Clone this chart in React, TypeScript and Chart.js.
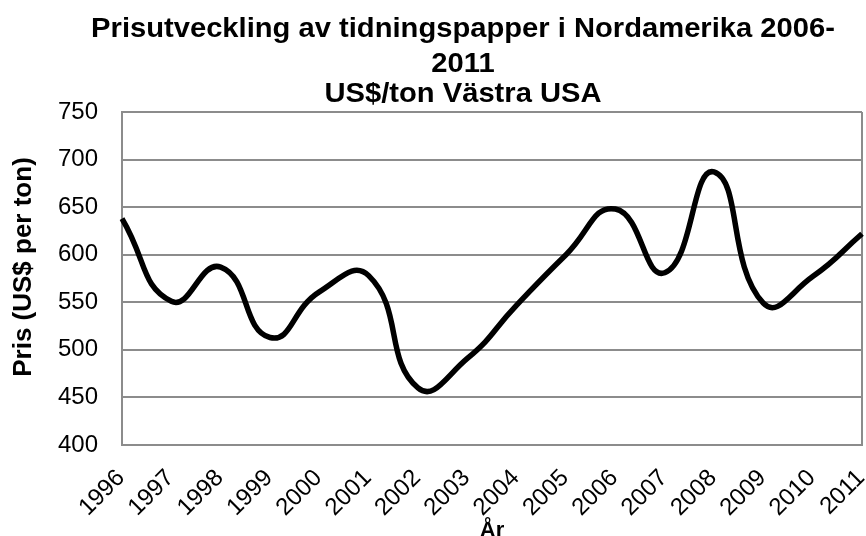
import React, { useEffect, useRef } from 'react';
import { Chart, registerables } from 'chart.js';

Chart.register(...registerables);

const titleLines = ['Prisutveckling av tidningspapper i Nordamerika 2006-', '2011', 'US$/ton Västra USA'];
const years = ['1996', '1997', '1998', '1999', '2000', '2001', '2002', '2003', '2004', '2005', '2006', '2007', '2008', '2009', '2010', '2011'];
const prices = [638, 551, 587, 513, 561, 578, 460, 491, 547, 600, 648, 581, 687, 549, 577, 622];
const yAxisTitle = 'Pris (US$ per ton)';
const xAxisTitle = 'År';
const yMin = 400;
const yMax = 750;
const yStep = 50;

const FONT = '"Liberation Sans", Arial, sans-serif';
const GRID = '#8c8c8c';

const textPlugin = {
  id: 'customTexts',
  afterDraw(chart: any) {
    const ctx = chart.ctx;
    ctx.save();
    ctx.fillStyle = '#000';
    ctx.font = `bold 27px ${FONT}`;
    ctx.textAlign = 'center';
    ctx.textBaseline = 'alphabetic';
    const cx = 463;
    const baselines = [37, 72, 102];
    titleLines.forEach((t, i) => {
      ctx.save();
      ctx.translate(cx, baselines[i]);
      ctx.scale(1.08, 1);
      ctx.fillText(t, 0, 0);
      ctx.restore();
    });
    // y axis title
    ctx.save();
    ctx.font = `bold 26px ${FONT}`;
    ctx.translate(31, 267);
    ctx.rotate(-Math.PI / 2);
    ctx.fillText(yAxisTitle, 0, 0);
    ctx.restore();
    ctx.restore();
  },
};

export default function App() {
  const ref = useRef<HTMLCanvasElement>(null);
  useEffect(() => {
    document.body.style.margin = '0';
    const canvas = ref.current;
    if (!canvas) return;
    const chart = new Chart(canvas, {
      type: 'line',
      data: {
        labels: years,
        datasets: [
          {
            data: prices,
            borderColor: '#000',
            borderWidth: 5.5,
            pointRadius: 0,
            tension: 0.5,
            fill: false,
          },
        ],
      },
      options: {
        animation: false,
        responsive: false,
        layout: { padding: { top: 112, right: 4, left: 0, bottom: 0 } },
        plugins: {
          legend: { display: false },
          tooltip: { enabled: false },
          title: { display: false },
        },
        scales: {
          x: {
            grid: {
              color: (c: any) => (c.index === years.length - 1 ? GRID : 'transparent'),
              lineWidth: 2,
              drawTicks: false,
            },
            border: { color: GRID, width: 2 },
            ticks: {
              color: '#000',
              font: { family: FONT, size: 24 },
              minRotation: 45,
              maxRotation: 45,
              autoSkip: false,
              padding: 19,
              labelOffset: -1,
            },
            title: {
              display: true,
              text: xAxisTitle,
              color: '#000',
              font: { family: FONT, size: 22, weight: 'bold', lineHeight: 1 },
              padding: { top: 0, bottom: -6 },
            },
            afterFit: (s: any) => {
              s.height = 91;
              s.paddingRight = 0;
              s.paddingLeft = 0;
            },
          },
          y: {
            min: yMin,
            max: yMax,
            ticks: {
              stepSize: yStep,
              color: '#000',
              font: { family: FONT, size: 24 },
              padding: 24,
            },
            grid: { color: GRID, lineWidth: 2, drawTicks: false },
            border: { color: GRID, width: 2 },
            title: { display: false, text: yAxisTitle },
            afterFit: (s: any) => {
              s.width = 122;
            },
          },
        },
      },
      plugins: [textPlugin],
    });
    return () => chart.destroy();
  }, []);
  return <canvas ref={ref} width={866} height={536} style={{ display: 'block' }} />;
}
